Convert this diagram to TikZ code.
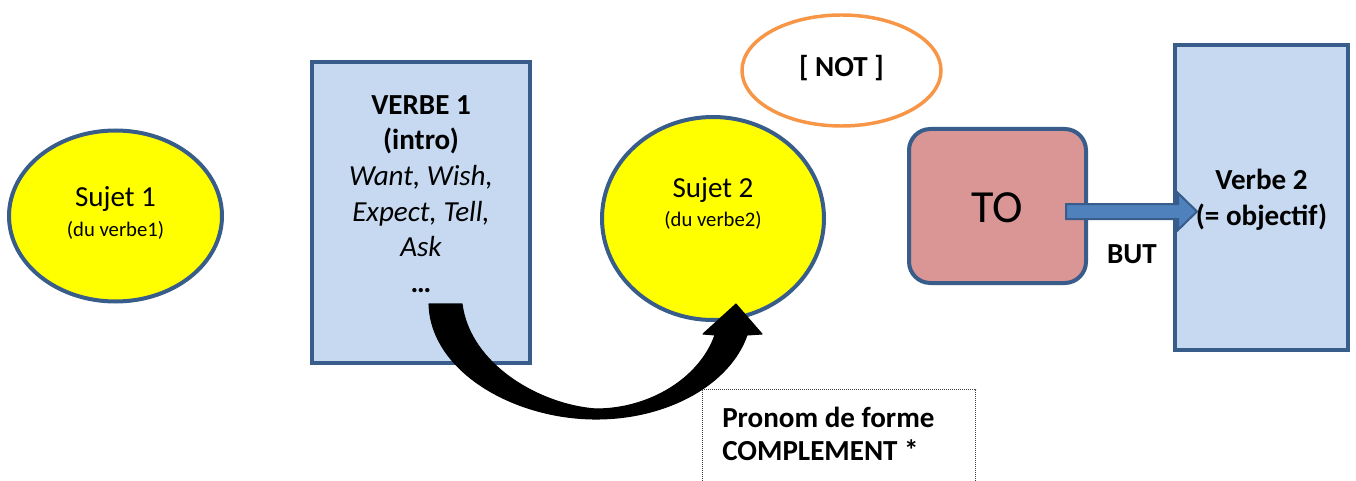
\documentclass[tikz,border=0pt]{standalone}
\usepackage{fontspec}
\setmainfont{Carlito}
\usetikzlibrary{shapes.geometric,calc}
\definecolor{bstroke}{HTML}{385D8A}
\definecolor{lblue}{HTML}{C6D9F1}
\definecolor{mblue}{HTML}{4F81BD}
\definecolor{tofill}{HTML}{D99694}
\definecolor{notorange}{HTML}{F79646}
\definecolor{yel}{HTML}{FFFF00}
\newcommand\Fmain{\fontsize{21.8}{26}\selectfont}
\newcommand\Fsmall{\fontsize{15.5}{19}\selectfont}
\newcommand\Fbig{\fontsize{34.5}{40}\selectfont}
\tikzset{
  blob/.style={ellipse, draw=bstroke, line width=3pt, fill=yel, inner sep=0pt},
  vbox/.style={rectangle, draw=bstroke, line width=3pt, fill=lblue, inner sep=0pt},
  tobox/.style={rectangle, rounded corners=16pt, draw=bstroke, line width=3pt, fill=tofill, inner sep=0pt},
  notell/.style={ellipse, draw=notorange, line width=2.6pt, fill=white, inner sep=0pt},
  note/.style={rectangle, draw=black!75, line width=0.75pt, dash pattern=on 0.75pt off 0.75pt, inner sep=0pt},
  txt/.style={anchor=base, inner sep=0pt, font=\Fmain},
  btxt/.style={anchor=base, inner sep=0pt, font=\Fmain\bfseries},
  itxt/.style={anchor=base, inner sep=0pt, font=\Fmain\itshape},
  blockarrow/.style={draw=bstroke, line width=1.5pt, fill=mblue, line join=miter},
  curvearrow/.style={fill=black, draw=black, line width=0.8pt, line join=round}
}
\begin{document}
\begin{tikzpicture}[x=0.75pt,y=-0.75pt]
\useasboundingbox (0,0) rectangle (1356,481);
\clip (0,0) rectangle (1356,481);

% shapes
\node[blob, minimum width=213*0.75pt, minimum height=171*0.75pt] (s1) at (115.5,216) {};
\node[vbox, minimum width=218*0.75pt, minimum height=301*0.75pt] (v1) at (421,212.5) {};
\node[blob, minimum width=222*0.75pt, minimum height=203*0.75pt] (s2) at (713,218.5) {};
\node[notell, minimum width=199*0.75pt, minimum height=111*0.75pt] (nt) at (841.5,70.5) {};
\node[tobox, minimum width=177*0.75pt, minimum height=154*0.75pt] (to) at (997.5,206) {};
\node[vbox, minimum width=173*0.75pt, minimum height=305*0.75pt] (v2) at (1261.5,197.5) {};
\node[note, minimum width=273*0.75pt, minimum height=140*0.75pt, anchor=north west] (pn) at (702,389) {};

% block arrow TO -> Verbe 2
\coordinate (ba) at ($(to.east)+(-22,5.5)$);
\draw[blockarrow] (ba) ++(0,-7.5) -- ++(112,0) -- ++(0,-11) -- ++(19,18.5) -- ++(-19,18.5) -- ++(0,-11) -- ++(-112,0) -- cycle;

% curved arrow VERBE 1 -> Sujet 2
\filldraw[curvearrow] (429,304)
  .. controls (431,372) and (515,419) .. (596,419)
  .. controls (668,419) and (730,384) .. (747,335)
  -- (762,334) -- (736,304) -- (703,334) -- (715,335)
  .. controls (700,378) and (650,409) .. (596,409)
  .. controls (540,405) and (470,365) .. (462,304)
  -- cycle;

% texts
\node[txt] (s1a) at (115.5,206) {Sujet 1};
\node[txt, font=\Fsmall] (s1b) at (115.5,236) {(du verbe1)};
\node[btxt] (v1a) at (421,115) {VERBE 1};
\node[btxt] (v1b) at (421,150) {(intro)};
\node[itxt] (v1c) at (421,185.5) {Want, Wish,};
\node[itxt] (v1d) at (421,221) {Expect, Tell,};
\node[itxt] (v1e) at (421,256.5) {Ask};
\node[btxt] (v1f) at (421,292) {…};
\node[txt] (s2a) at (713,198) {Sujet 2};
\node[txt, font=\Fsmall] (s2b) at (713,226) {(du verbe2)};
\node[btxt] (nta) at (841.5,77) {[ NOT ]};
\node[txt, font=\Fbig] (toa) at (997.5,222) {TO};
\node[btxt] (but) at (1132,263) {BUT};
\node[btxt] (v2a) at (1261.5,190) {Verbe 2};
\node[btxt] (v2b) at (1261.5,225) {(= objectif)};
\node[btxt, anchor=base west] (pna) at (722,427) {Pronom de forme};
\node[btxt, anchor=base west] (pnb) at (722,460) {COMPLEMENT *};
\end{tikzpicture}
\end{document}
